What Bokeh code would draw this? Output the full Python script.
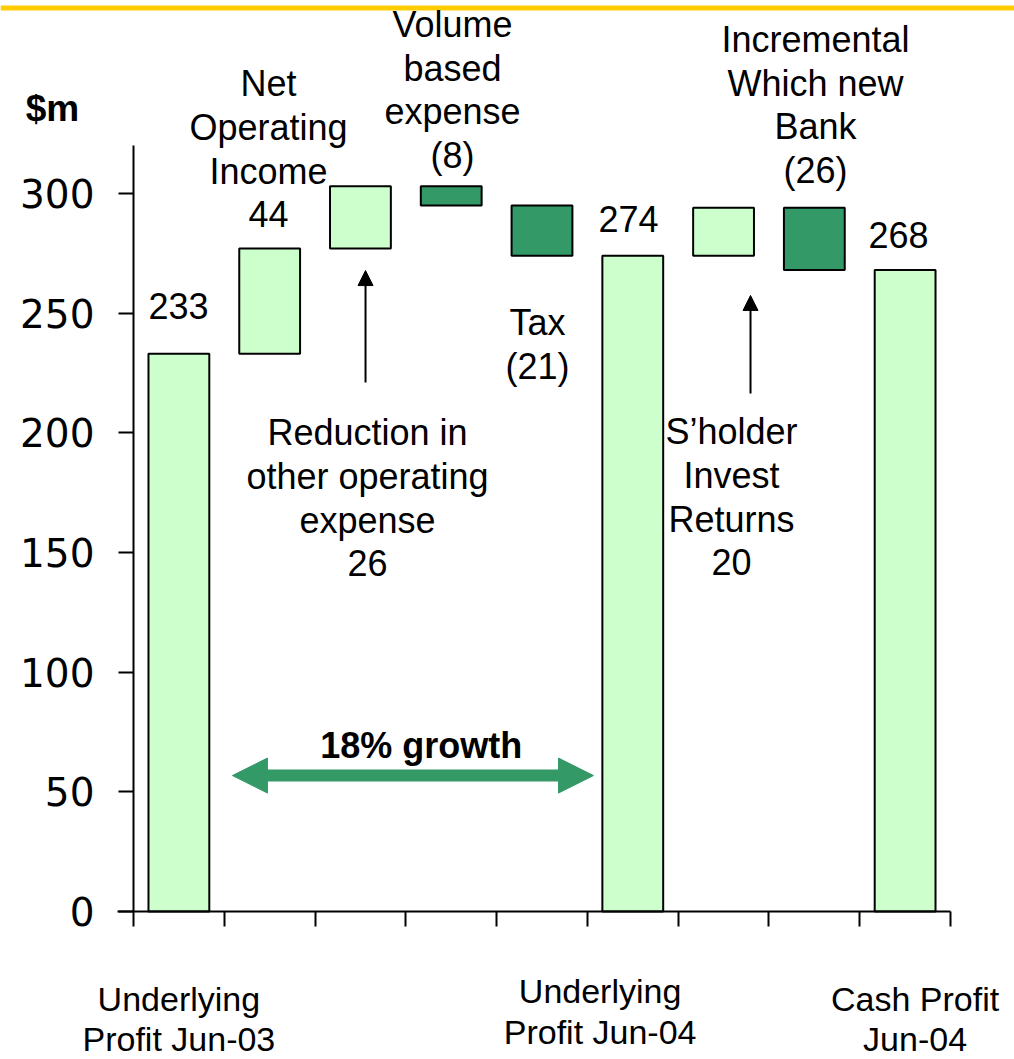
from bokeh.plotting import figure
from bokeh.models import Range1d, LinearAxis, FixedTicker, Arrow, NormalHead
from bokeh.core.properties import value
from bokeh.embed import file_html
from bokeh.resources import INLINE

# ---------------- data ----------------
categories = ["Underlying\nProfit Jun-03", "Net\nOperating\nIncome",
              "Reduction in\nother operating\nexpense", "Volume\nbased\nexpense",
              "Tax", "Underlying\nProfit Jun-04", "S\u2019holder\nInvest\nReturns",
              "Incremental\nWhich new\nBank", "Cash Profit\nJun-04"]
values = [233, 44, 26, -8, -21, 274, 20, -26, 268]
is_total = [True, False, False, False, False, True, False, False, True]
y_ticks = [0, 50, 100, 150, 200, 250, 300]
growth_label = "18% growth"
unit_label = "$m"

LIGHT = "#CCFFCC"
DARK = "#339966"
FONT = value("Liberation Sans")

# ---------------- layout ----------------
W, H = 1014, 1059
FL, FR = 133, 950          # pixel span of the 9 categories
px_x = (FR - FL) / 9.0
Y0 = 911                   # pixel row of value 0 (from top)
px_y = 718 / 300.0

x_range = Range1d(-FL / px_x, (W - FL) / px_x)
y_range = Range1d(-(H - Y0) / px_y, Y0 / px_y)

p = figure(width=W, height=H, x_range=x_range, y_range=y_range,
           x_axis_type=None, y_axis_type=None, output_backend="svg",
           toolbar_location=None, min_border=0, outline_line_color=None)
p.grid.visible = False

# yellow band on top
p.quad(left=[x_range.start], right=[x_range.end], top=[y_range.end - 5 / px_y],
       bottom=[y_range.end - 10 / px_y], fill_color="#FFCC00", line_color=None)

# ---------------- waterfall ----------------
bottoms, tops, colors, xs = [], [], [], []
run = 0
for i, (v, t) in enumerate(zip(values, is_total)):
    xs.append(i + 0.5)
    if t:
        bottoms.append(0); tops.append(v); run = v
        colors.append(LIGHT)
    else:
        new = run + v
        bottoms.append(min(run, new)); tops.append(max(run, new)); run = new
        colors.append(LIGHT if v >= 0 else DARK)

p.vbar(x=xs, bottom=bottoms, top=tops, width=0.67, fill_color=colors,
       line_color="black", line_width=2)

def fmt(v):
    return str(v) if v >= 0 else "(%d)" % (-v)

# ---------------- axes ----------------
yax = LinearAxis(fixed_location=0, bounds=(0, 320), ticker=FixedTicker(ticks=y_ticks),
                 major_tick_out=15, major_tick_in=0, minor_tick_out=0,
                 major_label_standoff=24, axis_line_width=2, major_tick_line_width=2,
                 major_label_text_font="DejaVu Sans", major_label_text_font_size="39px",
                 major_label_text_color="black")
p.add_layout(yax, "left")

xax = LinearAxis(fixed_location=0, bounds=(-0.176, 9), ticker=FixedTicker(ticks=list(range(10))),
                 major_tick_out=15, major_tick_in=0, minor_tick_out=0,
                 axis_line_width=2, major_tick_line_width=2,
                 major_label_overrides={i: "" for i in range(10)})
p.add_layout(xax, "below")

# ---------------- texts ----------------
tot_pos = {0: (0.496, 253.2), 5: (5.453, 289.5), 8: (8.427, 282.5)}
delta_pos = {1: (1.487, 318.4), 2: (2.578, 172.6), 3: (3.514, 343.2),
             4: (4.45, 236.9), 6: (6.587, 173.0), 7: (7.513, 337.0)}
cat_pos = {0: (0.5, -44.9), 5: (5.14, -41.8), 8: (8.61, -44.9)}

tx, ty, tt = [], [], []
for i, (x, y) in tot_pos.items():
    tx.append(x); ty.append(y); tt.append(fmt(values[i]))
for i, (x, y) in delta_pos.items():
    tx.append(x); ty.append(y); tt.append(categories[i] + "\n" + fmt(values[i]))
p.text(x=tx, y=ty, text=tt, text_font=FONT, text_font_size="36px",
       text_align="center", text_baseline="middle", text_line_height=1.065,
       text_color="black")

cx, cy, ct = [], [], []
for i, (x, y) in cat_pos.items():
    cx.append(x); cy.append(y); ct.append(categories[i])
p.text(x=cx, y=cy, text=ct, text_font=FONT, text_font_size="34px",
       text_align="center", text_baseline="middle", text_line_height=1.06,
       text_color="black")

p.text(x=[3.17], y=[69.4], text=[growth_label], text_font=FONT, text_font_size="36px",
       text_font_style="bold", text_align="center", text_baseline="middle")
p.text(x=[-0.892], y=[335.5], text=[unit_label], text_font=FONT, text_font_size="37px",
       text_font_style="bold", text_align="center", text_baseline="middle")

# ---------------- arrows ----------------
for (ax, ya, yb) in [(2.556, 221.0, 267.8), (6.797, 216.4, 257.4)]:
    p.add_layout(Arrow(end=NormalHead(size=15, fill_color="black", line_color="black"),
                       x_start=ax, y_start=ya, x_end=ax, y_end=yb,
                       line_width=2, line_color="black"))

p.add_layout(Arrow(start=NormalHead(size=35, fill_color=DARK, line_color=DARK),
                   end=NormalHead(size=35, fill_color=DARK, line_color=DARK),
                   x_start=1.09, y_start=56.8, x_end=5.067, y_end=56.8,
                   line_width=12, line_color=DARK))

open("out.html", "w").write(file_html(p, INLINE))
